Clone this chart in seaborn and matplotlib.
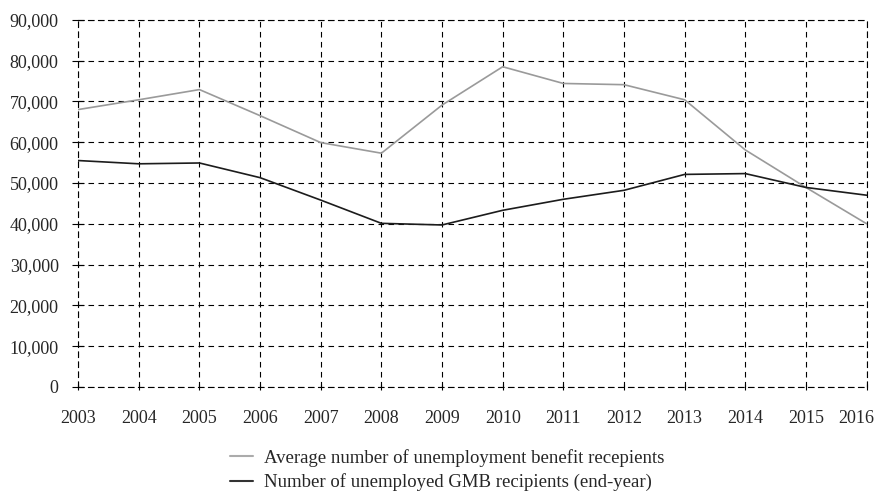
import numpy as np
import pandas as pd
import seaborn as sns
import matplotlib.pyplot as plt
import matplotlib.transforms as mtransforms
from matplotlib.ticker import FuncFormatter

years = list(range(2003, 2017))
benefit_avg = [68000, 70400, 72900, 66500, 59900, 57300, 69100,
               78500, 74400, 74100, 70400, 58100, 48900, 40000]
gmb_unemployed = [55500, 54700, 54900, 51300, 45800, 40100, 39700,
                  43300, 46000, 48200, 52100, 52300, 48900, 47000]
series_names = ["Average number of unemployment benefit recepients",
                "Number of unemployed GMB recipients (end-year)"]
series_colors = ["#9a9a9a", "#1c1c1c"]

df = pd.DataFrame({
    "year": years * 2,
    "value": benefit_avg + gmb_unemployed,
    "series": [series_names[0]] * len(years) + [series_names[1]] * len(years),
})

sns.set_style("white")
plt.rcParams['font.family'] = ['Liberation Serif', 'DejaVu Serif']

fig = plt.figure(figsize=(8.78, 4.96), dpi=100)
ax = fig.add_axes([0.089, 0.220, 0.898, 0.740])

sns.lineplot(data=df, x="year", y="value", hue="series",
             hue_order=series_names, palette=series_colors,
             linewidth=1.2, ax=ax, legend=False)

ax.set_xlim(2003, 2016)
ax.set_ylim(0, 90000)
ax.set_xticks(years)
ax.set_yticks(np.arange(0, 90001, 10000))
ax.yaxis.set_major_formatter(FuncFormatter(lambda v, p: f"{int(v):,}"))
ax.set_xlabel("")
ax.set_ylabel("")

dash = (0, (5, 4))
ax.grid(True, color="black", linestyle=dash, linewidth=0.8)
for s in ax.spines.values():
    s.set_visible(True)
    s.set_linestyle(dash)
    s.set_linewidth(0.8)
    s.set_color("black")
ax.tick_params(axis="x", direction="inout", length=5, width=0.8,
               color="black", pad=14, labelsize=13, bottom=True)
ax.tick_params(axis="y", direction="inout", length=8, width=0.8,
               color="black", pad=10, labelsize=13, left=True)

# keep the last year label inside the picture, as in the reference
last = ax.get_xticklabels()[-1]
last.set_transform(last.get_transform() +
                   mtransforms.ScaledTranslation(-0.1, 0, fig.dpi_scale_trans))

handles = [plt.Line2D([], [], color=c, linewidth=1.5) for c in ["#ababab", "#333333"]]
fig.legend(handles, series_names, loc="upper center",
           bbox_to_anchor=(0.509, 0.114), frameon=False, fontsize=13.5,
           handlelength=1.25, handletextpad=0.55, labelspacing=0.35,
           borderpad=0)

fig.savefig("out.png", dpi=100)
